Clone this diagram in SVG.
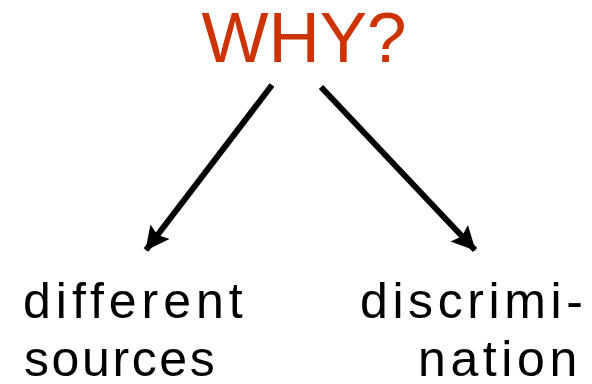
<svg xmlns="http://www.w3.org/2000/svg" width="592" height="384" viewBox="0 0 592 384">
<style>
.t{font-family:"Liberation Sans",Arial,sans-serif;fill:#000;font-size:50px}
.title{font-family:"Liberation Sans",Arial,sans-serif;fill:#CC3300;font-size:71px}
.c{stroke:#000;stroke-width:6;fill:none}
</style>
<defs>
<marker id="ah" markerUnits="userSpaceOnUse" markerWidth="28" markerHeight="26" refX="23" refY="12" orient="auto">
<polygon points="0,0 24,12 0,24 4,12" fill="#000"/>
</marker>
</defs>
<rect width="592" height="384" fill="#fff"/>
<g id="why"><text class="title" x="304" y="62" text-anchor="middle">WHY?</text></g>
<g id="connectors">
<line class="c" x1="272" y1="85" x2="146" y2="250" marker-end="url(#ah)"/>
<line class="c" x1="321" y1="87" x2="475" y2="250" marker-end="url(#ah)"/>
</g>
<g id="different-sources">
<text class="t" x="23" y="318" letter-spacing="5">different</text>
<text class="t" x="24" y="376" letter-spacing="2.6">sources</text>
</g>
<g id="discrimination">
<text class="t" x="360" y="318" letter-spacing="4.6">discrimi-</text>
<text class="t" x="418" y="376" letter-spacing="4.6">nation</text>
</g>
</svg>
